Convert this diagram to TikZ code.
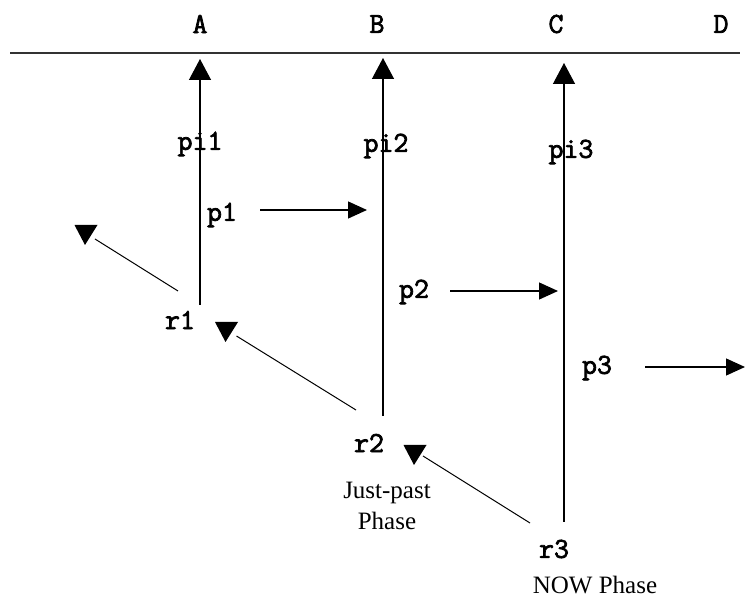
\documentclass[tikz,border=0pt]{standalone}
\usepackage{fontspec}
\setmainfont{Liberation Serif}
\newfontfamily\labelmono{Latin Modern Mono}[FakeBold=2.5]
\usetikzlibrary{arrows.meta}
\begin{document}
\begin{tikzpicture}[x=1pt,y=-1pt,
  lbl/.style={font=\labelmono\fontsize{29}{29}\selectfont, inner sep=0pt},
  captext/.style={font=\fontsize{25}{31}\selectfont, inner sep=0pt, align=center},
  vline/.style={line width=1.3pt, -{Triangle[length=21pt,width=22pt]}},
  hline/.style={line width=1.3pt, -{Triangle[length=19pt,width=17pt]}},
  dline/.style={line width=1pt},
  dhead/.pic={\fill (-11.5,0) -- (11.5,0) -- (-1,20) -- cycle;}
]
\useasboundingbox (0,0) rectangle (745,601);

% header
\node[lbl] (A) at (200,24) {A};
\node[lbl] (B) at (377,24) {B};
\node[lbl] (C) at (556,24) {C};
\node[lbl] (D) at (721,24) {D};
\coordinate (L0) at (10,53);
\coordinate (L1) at (740,53);
\draw[line width=2pt, black!80] (L0) -- (L1);

% vertical arrows
\coordinate (a0) at (200,305); \coordinate (a1) at (200,59);
\coordinate (b0) at (383,416); \coordinate (b1) at (383,58);
\coordinate (c0) at (564,522); \coordinate (c1) at (564,63);
\draw[vline] (a0) -- (a1);
\draw[vline] (b0) -- (b1);
\draw[vline] (c0) -- (c1);

% labels
\node[lbl] (pi1) at (200,144) {pi1};
\node[lbl] (pi2) at (386,146) {pi2};
\node[lbl] (pi3) at (571,152) {pi3};
\node[lbl] (p1) at (222,215) {p1};
\node[lbl] (p2) at (414,292) {p2};
\node[lbl] (p3) at (597,368) {p3};
\node[lbl] (r1) at (180,320) {r1};
\node[lbl] (r2) at (369,443) {r2};
\node[lbl] (r3) at (554,549) {r3};
\node[captext, anchor=north] (jp) at (387,482) {Just-past\\Phase};
\node[captext, anchor=base] (now) at (595,594) {NOW Phase};

% horizontal arrows
\coordinate (q1s) at (260,210); \coordinate (q1e) at (367,210);
\coordinate (q2s) at (450,291); \coordinate (q2e) at (558,291);
\coordinate (q3s) at (645,367); \coordinate (q3e) at (745,367);
\draw[hline] (q1s) -- (q1e);
\draw[hline] (q2s) -- (q2e);
\draw[hline] (q3s) -- (q3e);

% diagonal arrows
\coordinate (h1) at (86,225);
\coordinate (h2) at (226.5,322);
\coordinate (h3) at (415,445);
\pic at (h1) {dhead};
\pic at (h2) {dhead};
\pic at (h3) {dhead};
\coordinate (d1s) at (178,291);
\coordinate (d2s) at (356,410);
\coordinate (d3s) at (530,523);
\draw[dline] (d1s) -- ([shift={(9,14)}]h1);
\draw[dline] (d2s) -- ([shift={(10,14)}]h2);
\draw[dline] (d3s) -- ([shift={(8,11)}]h3);
\end{tikzpicture}
\end{document}
